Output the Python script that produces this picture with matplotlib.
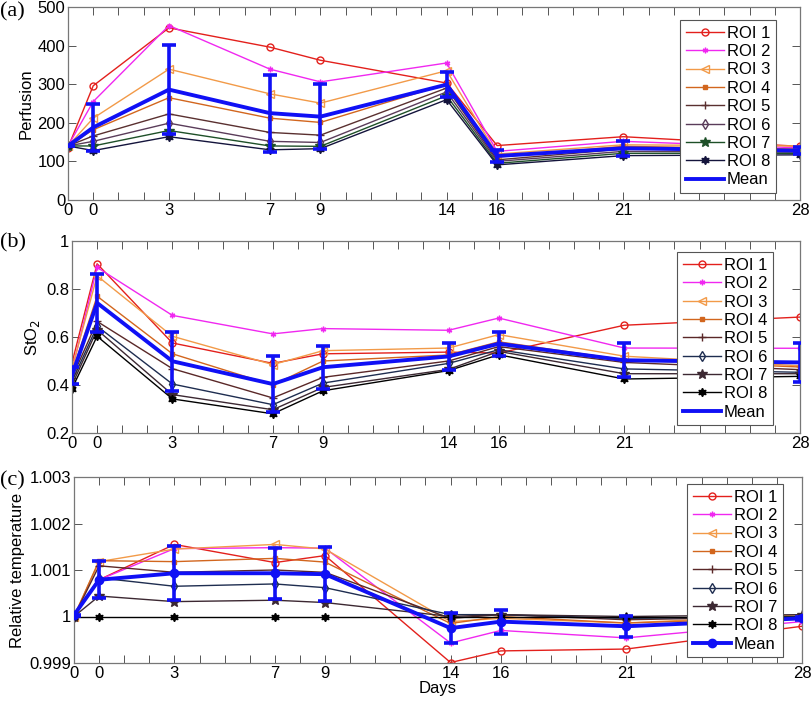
import numpy as np
import matplotlib
matplotlib.use('Agg')
import matplotlib.pyplot as plt

plt.rcParams['font.family'] = ['Liberation Sans', 'DejaVu Sans']

# --- datos ---
days = [-1, 0, 3, 7, 9, 14, 16, 21, 28]
tick_pos = list(range(-1, 29))
tick_lab_map = {-1: '0', 0: '0', 3: '3', 7: '7', 9: '9', 14: '14', 16: '16', 21: '21', 28: '28'}
roi_names = ['ROI 1', 'ROI 2', 'ROI 3', 'ROI 4', 'ROI 5', 'ROI 6', 'ROI 7', 'ROI 8']

perf_roi = [
    [136, 296, 446, 396, 362, 303, 141, 164, 139],
    [140, 255, 452, 339, 306, 355, 126, 152, 135],
    [140, 212, 339, 275, 251, 335, 119, 143, 140],
    [140, 182, 265, 212, 201, 300, 111, 139, 132],
    [140, 166, 223, 175, 168, 290, 104, 132, 128],
    [140, 152, 199, 152, 149, 280, 100, 126, 124],
    [140, 140, 180, 140, 139, 270, 95, 121, 121],
    [140, 128, 164, 130, 133, 260, 91, 115, 117],
]
perf_mean = [140, 188, 286, 225, 216, 299, 114, 134, 128]
perf_err = [0, 60, 116, 100, 84, 33, 16, 20, 10]

sto2_roi = [
    [0.492, 0.905, 0.575, 0.490, 0.530, 0.537, 0.533, 0.649, 0.683],
    [0.460, 0.890, 0.690, 0.613, 0.635, 0.628, 0.679, 0.554, 0.553],
    [0.468, 0.855, 0.603, 0.485, 0.543, 0.554, 0.610, 0.520, 0.480],
    [0.450, 0.770, 0.530, 0.400, 0.500, 0.525, 0.580, 0.505, 0.475],
    [0.430, 0.665, 0.468, 0.346, 0.432, 0.500, 0.560, 0.494, 0.464],
    [0.415, 0.645, 0.404, 0.318, 0.408, 0.490, 0.547, 0.467, 0.453],
    [0.400, 0.630, 0.360, 0.297, 0.390, 0.465, 0.540, 0.447, 0.447],
    [0.385, 0.603, 0.342, 0.280, 0.376, 0.460, 0.526, 0.425, 0.436],
]
sto2_mean = [0.440, 0.742, 0.499, 0.404, 0.474, 0.519, 0.572, 0.503, 0.494]
sto2_err = [0.035, 0.120, 0.123, 0.116, 0.090, 0.055, 0.050, 0.070, 0.083]

temp_roi = [
    [1.00000, 1.00079, 1.00155, 1.00116, 1.00131, 0.99901, 0.99926, 0.99930, 0.99979],
    [1.00000, 1.00079, 1.00146, 1.00148, 1.00147, 0.99943, 0.99970, 0.99954, 0.99989],
    [1.00000, 1.00118, 1.00145, 1.00155, 1.00145, 0.99989, 0.99996, 0.99986, 1.00004],
    [1.00000, 1.00120, 1.00118, 1.00125, 1.00117, 0.99985, 1.00000, 0.99986, 0.99998],
    [1.00000, 1.00109, 1.00095, 1.00100, 1.00095, 0.99996, 1.00004, 0.99993, 1.00000],
    [1.00000, 1.00083, 1.00065, 1.00070, 1.00062, 1.00004, 1.00004, 0.99996, 1.00000],
    [1.00000, 1.00044, 1.00032, 1.00035, 1.00030, 1.00000, 1.00004, 1.00000, 1.00004],
    [1.00000, 1.00000, 1.00000, 1.00000, 1.00000, 1.00000, 1.00000, 1.00000, 1.00000],
]
temp_mean = [1.00003, 1.00079, 1.00093, 1.00093, 1.00091, 0.99975, 0.99989, 0.99979, 0.99996]
temp_err = [0.00001, 0.00040, 0.00058, 0.00055, 0.00058, 0.00033, 0.00026, 0.00023, 0.00004]

# --- estilo ---
cols_a = ['#e3201c', '#f028f0', '#f29a48', '#d2661e', '#5a3030', '#5a3c5a', '#1e5028', '#14143c']
cols_bc = ['#e3201c', '#f028f0', '#f29a48', '#d2661e', '#5a2828', '#1e2d50', '#3c2832', '#000000']
markers = ['o', (6, 2, 0), '<', 's', '+', 'd', '*', (6, 1, 0)]
msizes = [5, 4, 6, 2.5, 6, 5, 7, 6]
hollow = [True, False, True, False, False, True, False, False]
BLUE = '#1010f5'
FS = 12

fig = plt.figure(figsize=(8.12, 7.02), dpi=100)
W, H = 812, 702

def px_axes(l, t, r, b):
    return fig.add_axes([l / W, 1 - b / H, (r - l) / W, (b - t) / H])

def panel(ax, rois, mean, err, colors, mean_marker, ylim, yticks, ylabels, ylabel, leg_box):
    for i, y in enumerate(rois):
        ax.plot(days, y, color=colors[i], lw=1.0, marker=markers[i], ms=msizes[i],
                mfc='none' if hollow[i] else colors[i], mec=colors[i], mew=1.0,
                label=roi_names[i])
    ax.errorbar(days, mean, yerr=err, fmt='none', ecolor=BLUE, elinewidth=2.6,
                capsize=5, capthick=2.6, zorder=5)
    if mean_marker:
        ax.plot(days, mean, color=BLUE, lw=2.8, marker='o', ms=6, zorder=6, label='Mean')
    else:
        ax.plot(days, mean, color=BLUE, lw=2.8, zorder=6, label='Mean')
    ax.set_xlim(-1, 28)
    ax.set_ylim(*ylim)
    ax.set_xticks(tick_pos)
    ax.set_xticklabels([tick_lab_map.get(t, '') for t in tick_pos])
    ax.set_yticks(yticks)
    ax.set_yticklabels(ylabels)
    ax.tick_params(direction='in', length=6, width=0.7, color='#555555', top=True, right=True,
                   labelsize=FS, pad=2)
    for s in ax.spines.values():
        s.set_color('#777777')
        s.set_linewidth(0.9)
    ax.set_ylabel(ylabel, fontsize=FS, labelpad=3)
    l, t = leg_box
    leg = ax.legend(loc='upper right', bbox_to_anchor=(l / W, 1 - t / H), bbox_transform=fig.transFigure,
                    borderaxespad=0, fontsize=FS, fancybox=False, framealpha=1, edgecolor='#555555',
                    handlelength=2.3, labelspacing=0.2, borderpad=0.35, handletextpad=0.15)
    leg.get_frame().set_linewidth(0.8)
    leg.set_zorder(20)

ax1 = px_axes(68, 7, 800, 200)
panel(ax1, perf_roi, perf_mean, perf_err, cols_a, False, (0, 500), [0, 100, 200, 300, 400, 500],
      ['0', '100', '200', '300', '400', '500'], 'Perfusion', (776, 20))

ax2 = px_axes(72, 241, 800, 433)
panel(ax2, sto2_roi, sto2_mean, sto2_err, cols_bc, False, (0.2, 1.0), [0.2, 0.4, 0.6, 0.8, 1.0],
      ['0.2', '0.4', '0.6', '0.8', '1'], 'StO$_2$', (773, 252))

ax3 = px_axes(74, 477, 802, 663)
panel(ax3, temp_roi, temp_mean, temp_err, cols_bc, True, (0.999, 1.003), [0.999, 1.0, 1.001, 1.002, 1.003],
      ['0.999', '1', '1.001', '1.002', '1.003'], 'Relative temperature', (783, 484))
ax3.set_xlabel('Days', fontsize=FS, labelpad=0)

for lab, (xp, yp) in zip(['(a)', '(b)', '(c)'], [(0, 12), (0, 243), (0, 481)]):
    fig.text(xp / W, 1 - yp / H, lab, fontsize=16, family=['Liberation Serif', 'DejaVu Serif'],
             ha='left', va='center')

fig.savefig('out.png', dpi=100)
